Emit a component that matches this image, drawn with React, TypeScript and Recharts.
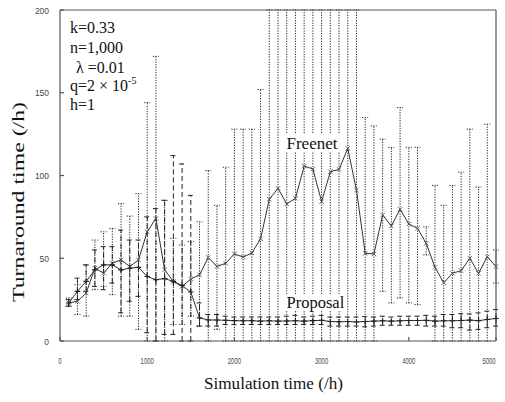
import { LineChart, Line, XAxis, YAxis, ErrorBar } from 'recharts';

// simulation time (h), one sample every 100 h
const times = [
  100, 200, 300, 400, 500, 600, 700, 800, 900, 1000,
  1100, 1200, 1300, 1400, 1500, 1600, 1700, 1800, 1900, 2000,
  2100, 2200, 2300, 2400, 2500, 2600, 2700, 2800, 2900, 3000,
  3100, 3200, 3300, 3400, 3500, 3600, 3700, 3800, 3900, 4000,
  4100, 4200, 4300, 4400, 4500, 4600, 4700, 4800, 4900, 5000,
];

const freenet = [
  23, 24, 29, 44, 41, 47, 49, 45, 49, 66,
  74, 43, 36, 33, 37.5, 40, 50.5, 45, 47, 52.6,
  50.7, 53.2, 61.7, 85.6, 92.2, 82.8, 86.2, 105.7, 103.9, 84.2,
  102.3, 103.7, 116.4, 91.2, 53, 52.6, 76.1, 69.5, 79.6, 70.7,
  68.1, 59, 44.5, 35.2, 40.9, 42.5, 50, 40.9, 50.9, 44.9,
];
const freenetLow = [
  21, 16, 15, 31, 33, 28, 15, 15, 7, 0,
  0, 0, 10, 10, 15, 9, 0, 7, 0, 0,
  0, 0, 0, 0, 0, 0, 0, 0, 0, 0,
  0, 0, 0, 0, 0, 0, 30, 23, 26, 23,
  22, 52, 0, 0, 0, 0, 0, 0, 0, 35,
];
const freenetHigh = [
  26, 34, 46, 61, 66, 68, 83, 75.5, 89, 144,
  172, 85, 62, 58, 60, 72, 103, 82, 105, 128,
  128, 128, 152, 200, 200, 200, 200, 200, 200, 200,
  200, 200, 200, 200, 135, 130, 122, 117, 141, 117,
  117, 69, 94, 82, 94, 102, 128, 93, 131, 55,
];

const proposal = [
  23, 30, 36, 43, 46, 46, 43, 44, 44.5, 39,
  37, 37.7, 36, 33.5, 29.6, 14, 12.7, 12.7, 12.5, 12.3,
  12.2, 12.3, 12, 12.2, 12, 12.1, 12.2, 12, 12.3, 12.5,
  11.8, 11.6, 11.8, 11.5, 11.8, 12, 12.2, 12, 12.2, 12.4,
  12.4, 12.5, 12, 12.2, 12.2, 12.4, 12.6, 12.3, 13, 13.6,
];
const proposalLow = [
  21, 25, 30, 33, 31, 35, 17, 24, 27, 5,
  0, 4, 4, 0, 0, 9, 9, 9, 10, 10,
  10, 10, 10, 10, 10, 10, 10, 10, 10, 10,
  9, 9, 9, 9, 8.6, 9, 9.5, 9.5, 9.5, 9.5,
  9.5, 9, 9, 9, 8, 8, 6.6, 7, 8, 9,
];
const proposalHigh = [
  25, 38, 46, 55, 57, 57, 67, 61, 61, 75,
  80, 85, 112, 107, 88, 23, 16, 16, 15, 14.5,
  14.5, 14.5, 14.5, 14.5, 14.5, 15, 15.5, 14.5, 15, 15.5,
  14.5, 14.5, 14.5, 14.5, 14.7, 14.5, 15, 14.5, 15, 15,
  15, 15.5, 15, 16, 16, 16.5, 16.3, 17, 18, 19,
];

const xTicks = [0, 1000, 2000, 3000, 4000, 5000];
const yTicks = [0, 50, 100, 150, 200];

const data = times.map((t, i) => ({
  t,
  freenet: freenet[i],
  freenetErr: [freenet[i] - freenetLow[i], freenetHigh[i] - freenet[i]],
  proposal: proposal[i],
  proposalErr: [proposal[i] - proposalLow[i], proposalHigh[i] - proposal[i]],
}));

const INK = '#333';
const SANS = "'Liberation Sans', Arial, sans-serif";
const SERIF = "'Liberation Serif', 'Times New Roman', serif";

function XTick(props: any) {
  const { x, y, payload } = props;
  const s = String(payload.value);
  return (
    <text x={x} y={y} textAnchor="middle" fontSize={9} fontFamily={SANS} fill="#444"
      textLength={s.length * 3.3} lengthAdjust="spacingAndGlyphs">
      {s}
    </text>
  );
}

function YTick(props: any) {
  const { x, y, payload } = props;
  const s = String(payload.value);
  return (
    <text x={x} y={y + 3.5} textAnchor="end" fontSize={9.5} fontFamily={SANS} fill="#444"
      textLength={s.length * 4.7} lengthAdjust="spacingAndGlyphs">
      {s}
    </text>
  );
}

// 'x' marker for Freenet
function CrossDot(props: any) {
  const { cx, cy } = props;
  if (cx == null || cy == null) return null;
  const r = 2.2;
  return (
    <path d={`M${cx - r},${cy - r}L${cx + r},${cy + r}M${cx - r},${cy + r}L${cx + r},${cy - r}`}
      stroke="#555" strokeWidth={0.9} fill="none" />
  );
}

// '+' marker for Proposal
function PlusDot(props: any) {
  const { cx, cy } = props;
  if (cx == null || cy == null) return null;
  const r = 2.8;
  return (
    <path d={`M${cx - r},${cy}L${cx + r},${cy}M${cx},${cy - r}L${cx},${cy + r}`}
      stroke="#222" strokeWidth={1.1} fill="none" />
  );
}

export default function App() {
  return (
    <div style={{ position: 'absolute', left: 0, top: 0, width: 505, height: 402, background: '#fff' }}>
      <LineChart width={505} height={402} data={data} margin={{ top: 9, right: 8, bottom: 0, left: 0 }}>
        <XAxis dataKey="t" type="number" domain={[0, 5000]} ticks={xTicks} height={61}
          stroke="#555" strokeWidth={1.2} tickSize={-4} tickMargin={27} tick={<XTick />} />
        <XAxis xAxisId="top" orientation="top" dataKey="t" type="number" domain={[0, 5000]} ticks={xTicks}
          height={1} stroke="#555" strokeWidth={1.2} tickSize={-4} tick={false} />
        <YAxis type="number" domain={[0, 200]} ticks={yTicks} width={60}
          stroke="#555" strokeWidth={1.2} tickSize={-4} tickMargin={15} tick={<YTick />} />
        <YAxis yAxisId="right" orientation="right" type="number" domain={[0, 200]} ticks={yTicks}
          width={1} stroke="#555" strokeWidth={1.2} tickSize={-4} tick={false} />

        <Line dataKey="freenet" type="linear" stroke={INK} strokeWidth={1} dot={<CrossDot />}
          activeDot={false} isAnimationActive={false}>
          <ErrorBar dataKey="freenetErr" width={3} stroke="#222" strokeWidth={1}
            strokeDasharray="1.2 1.4" isAnimationActive={false} />
        </Line>
        <Line dataKey="proposal" type="linear" stroke={INK} strokeWidth={1} dot={<PlusDot />}
          activeDot={false} isAnimationActive={false}>
          <ErrorBar dataKey="proposalErr" width={3} stroke="#222" strokeWidth={1}
            strokeDasharray="5 3" isAnimationActive={false} />
        </Line>
      </LineChart>

      {/* labels and annotations */}
      <svg width={505} height={402} style={{ position: 'absolute', left: 0, top: 0, pointerEvents: 'none' }}>
        <g fontFamily={SERIF} fill="#111" fontSize={16}>
          <text x={70} y={32.5}>k=0.33</text>
          <text x={70} y={52.5}>n=1,000</text>
          <text x={76} y={72.5}>λ =0.01</text>
          <text x={70} y={91}>q=2 × 10<tspan fontSize={10} dy={-7}>-5</tspan></text>
          <text x={70} y={110}>h=1</text>

          <rect x={284} y={133} width={56} height={19} fill="#fff" />
          <text x={286.5} y={149} fontSize={17}>Freenet</text>
          <rect x={284} y={294} width={63} height={17} fill="#fff" />
          <text x={286.5} y={308} fontSize={16.5}>Proposal</text>

          <text x={273.5} y={389} fontSize={17} textAnchor="middle" textLength={139} lengthAdjust="spacingAndGlyphs">
            Simulation time (/h)
          </text>
          <text x={0} y={0} fontSize={16.5} textAnchor="middle" textLength={200} lengthAdjust="spacingAndGlyphs"
            transform="translate(24,202) rotate(-90)">
            Turnaround time (/h)
          </text>
        </g>
      </svg>
    </div>
  );
}
